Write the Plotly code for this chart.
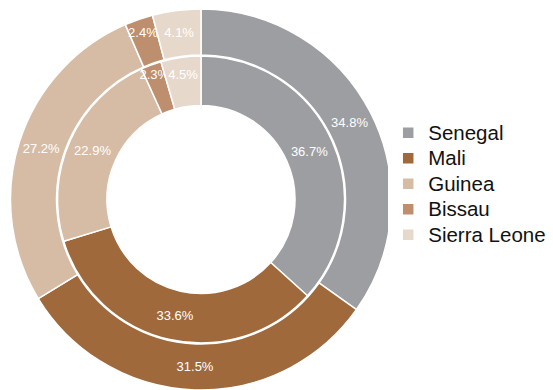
import plotly.graph_objects as go

labels = ["Senegal", "Mali", "Guinea", "Bissau", "Sierra Leone"]
outer_values = [34.8, 31.5, 27.2, 2.4, 4.1]
inner_values = [36.7, 33.6, 22.9, 2.3, 4.5]
colors = ["#9d9ea2", "#a0693c", "#d6bca5", "#bd8f6e", "#e6d9cc"]

W, H = 553, 390
cx, cy = 201, 199.5  # pixel centre (from top)
R_out, R_in = 190.5, 143.5

def dom(r):
    return dict(x=[(cx - r) / W, (cx + r) / W],
                y=[max(0, (H - cy - r) / H), (H - cy + r) / H])

# legend entries shown a little larger than the row spacing implies
legend_labels = [f"<span style='font-size:20.5px'>{l}</span>" for l in labels]

txt = dict(color="white", size=13, family="Liberation Sans, Arial")

fig = go.Figure()
fig.add_trace(go.Pie(
    labels=legend_labels, values=outer_values, hole=144.5 / R_out, sort=False,
    direction="clockwise", rotation=0, domain=dom(R_out),
    marker=dict(colors=colors, line=dict(color="white", width=1.5)),
    texttemplate="%{value:.1f}%", textposition="inside",
    insidetextorientation="horizontal", textfont=txt,
    hoverinfo="label+value", showlegend=True,
))
fig.add_trace(go.Pie(
    labels=legend_labels, values=inner_values, hole=94 / R_in, sort=False,
    direction="clockwise", rotation=0, domain=dom(R_in),
    marker=dict(colors=colors, line=dict(color="white", width=1.5)),
    texttemplate="%{value:.1f}%", textposition="inside",
    insidetextorientation="horizontal", textfont=txt,
    hoverinfo="label+value", showlegend=False,
))
fig.update_layout(
    width=W, height=H,
    margin=dict(l=0, r=0, t=0, b=0, autoexpand=False),
    paper_bgcolor="white", plot_bgcolor="white",
    font=dict(family="Liberation Sans, Arial", color="#111"),
    legend=dict(x=0.702, y=0.528, xanchor="left", yanchor="middle",
                font=dict(size=17.3, color="#111"), itemwidth=30,
                tracegroupgap=0),
    uniformtext=dict(minsize=13, mode="show"),
)
fig.write_html("out.html")
